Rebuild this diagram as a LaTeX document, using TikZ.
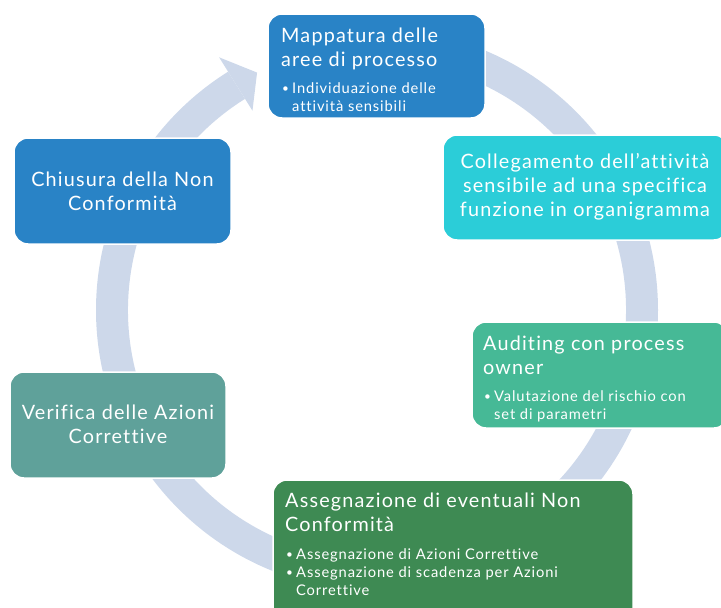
\documentclass[tikz,border=0pt]{standalone}
\usepackage{fontspec}
\setmainfont{Lato}[LetterSpace=6,Ligatures=NoCommon]
\definecolor{ringc}{HTML}{CDD8EA}
\definecolor{cblue}{HTML}{2983C6}
\definecolor{ccyan}{HTML}{2BCDD8}
\definecolor{cgreen}{HTML}{46B996}
\definecolor{cdark}{HTML}{3E8A53}
\definecolor{cteal}{HTML}{5FA19A}
\tikzset{
  box/.style={draw=white,line width=1.5pt,rounded corners=14pt,inner sep=0pt},
  ttl/.style={text=white,inner sep=0pt,anchor=base west,font=\fontsize{19.8}{24}\selectfont},
  cttl/.style={text=white,inner sep=0pt,anchor=base,font=\fontsize{19.8}{24}\selectfont},
  bul/.style={text=white,inner sep=0pt,anchor=base west,font=\fontsize{14.7}{18.2}\selectfont},
  ringfill/.style={fill=ringc}
}
\newcommand{\bdot}{\raisebox{1pt}{\scalebox{0.8}{\textbullet}}}
\begin{document}
\begin{tikzpicture}[x=1pt,y=-1pt]
\useasboundingbox (0,0) rectangle (721,608);
\coordinate (C) at (377,310);
% ring arrow
\fill[ringfill] ([shift={(-90:281)}]C) arc[start angle=-90,end angle=238,radius=281]
  -- ([shift={(238:249)}]C) arc[start angle=238,end angle=-90,radius=249] -- cycle;
\fill[ringfill] ([shift={(238:235)}]C) -- ([shift={(243.2:266)}]C) -- ([shift={(238:298)}]C) -- cycle;
% boxes
\path[box,fill=cblue] (268,14) rectangle (485,118) node[pos=0.5] (b1) {};
\path[box,fill=ccyan] (443,135) rectangle (728,240) node[pos=0.5] (b2) {};
\path[box,fill=cgreen] (472,322) rectangle (728,428) node[pos=0.5] (b3) {};
\path[box,fill=cdark] (273,480) rectangle (633,625) node[pos=0.5] (b4) {};
\path[box,fill=cteal] (10,372) rectangle (226,478) node[pos=0.5] (b5) {};
\path[box,fill=cblue] (14,138) rectangle (231,244) node[pos=0.5] (b6) {};
% texts
\node[ttl] (t1) at (281,42) {\begin{tabular}[t]{@{}l@{}}Mappatura delle\\aree di processo\end{tabular}};
\node[bul] (u1) at (282,93) {\begin{tabular}[t]{@{}p{10pt}@{}l@{}}\bdot & Individuazione delle\\ & attività sensibili\end{tabular}};
\node[cttl] (t2) at (585,168) {\begin{tabular}[t]{@{}c@{}}Collegamento dell’attività\\sensibile ad una specifica\\funzione in organigramma\end{tabular}};
\node[ttl] (t3) at (483,350) {\begin{tabular}[t]{@{}l@{}}Auditing con process\\owner\end{tabular}};
\node[bul] (u3) at (484,401) {\begin{tabular}[t]{@{}p{10pt}@{}l@{}}\bdot & Valutazione del rischio con\\ & set di parametri\end{tabular}};
\node[ttl] (t4) at (285,507) {\begin{tabular}[t]{@{}l@{}}Assegnazione di eventuali Non\\Conformità\end{tabular}};
\node[bul] (u4) at (286,559) {\begin{tabular}[t]{@{}p{10pt}@{}l@{}}\bdot & Assegnazione di Azioni Correttive\\ \bdot & Assegnazione di scadenza per Azioni\\ & Correttive\end{tabular}};
\node[cttl] (t5) at (118,419) {\begin{tabular}[t]{@{}c@{}}Verifica delle Azioni\\Correttive\end{tabular}};
\node[cttl] (t6) at (122.5,186) {\begin{tabular}[t]{@{}c@{}}Chiusura della Non\\Conformità\end{tabular}};
\end{tikzpicture}
\end{document}
